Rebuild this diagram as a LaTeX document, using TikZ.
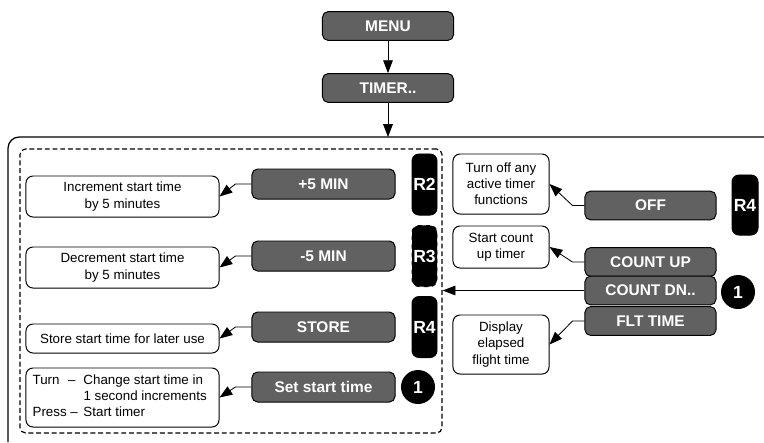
\documentclass[tikz,border=0pt]{standalone}
\usepackage{fontspec}
\setmainfont{Liberation Sans}
\usetikzlibrary{arrows.meta, positioning, calc}
\definecolor{keygray}{HTML}{616161}

\tikzset{
  keybox/.style={draw=black, fill=keygray, text=white, rounded corners=4pt,
    font=\fontsize{11}{13}\selectfont\bfseries, inner sep=0pt,
    minimum width=3.575cm, minimum height=0.75cm},
  keysmall/.style={keybox, minimum width=3.275cm, minimum height=0.72cm},
  infobox/.style={draw=black, fill=white, rounded corners=5pt, align=center,
    font=\fontsize{9.5}{11.5}\selectfont, inner sep=0pt, minimum width=4.825cm},
  infosmall/.style={infobox, minimum width=2.4cm},
  rkey/.style={draw=black, fill=black, text=white, rounded corners=5pt,
    font=\fontsize{12.5}{14}\selectfont\bfseries, inner sep=0pt,
    minimum width=0.625cm, minimum height=1.525cm},
  numdot/.style={circle, fill=black, text=white, inner sep=0pt,
    font=\fontsize{12.5}{14}\selectfont\bfseries, minimum size=0.85cm},
  arr/.style={-{Triangle[length=3.2mm,width=2.4mm]}, line width=0.6pt}
}

\begin{document}
\begin{tikzpicture}[x=0.025cm, y=-0.025cm, line width=0.7pt]
  \useasboundingbox (0,0) rectangle (764,442);

  % Menu path
  \node[keysmall] (menu) at (388,26) {MENU};
  \node[keysmall] (timer) at (388,88) {TIMER..};
  \coordinate (ftop) at (388,137);
  \draw[arr] (menu) -- (timer);
  \draw[arr] (timer) -- (ftop);

  % Frames
  \draw[line width=0.9pt, rounded corners=8] (764,137) -- (8,137) -- (8,442);
  \node[draw, line width=0.85pt, dash pattern=on 3.5pt off 2pt, rounded corners=4pt, inner sep=0pt,
    minimum width=10.55cm, minimum height=7.1cm] (panel) at (231,291) {};

  % Start time keys
  \node[keybox] (plus) at (323.5,184) {+5 MIN};
  \node[keybox] (minus) at (323.5,256) {-5 MIN};
  \node[keybox] (store) at (323.5,327) {STORE};
  \node[keybox] (setst) at (323.5,387) {Set start time};

  \node[rkey] (rtwo) at (424.5,184.5) {R2};
  \node[rkey, dashed] (rthree) at (424.5,256) {R3};
  \node[rkey] (rfour) at (424.5,327) {R4};
  \node[numdot] (knob) at (418,387) {1};

  % Start time notes
  \node[infobox, minimum height=1.025cm] (inc) at (122.5,196.5) {Increment start time\\by 5 minutes};
  \node[infobox, minimum height=1.025cm] (dec) at (122.5,267.5) {Decrement start time\\by 5 minutes};
  \node[infobox, minimum height=0.725cm] (keep) at (122.5,338.5) {Store start time for later use};
  \node[infobox, minimum height=1.475cm, align=left] (turn) at (122.5,397.5)
    {\begin{tabular}{@{}l@{\hspace{4pt}}l@{}}
      Turn\hspace{6pt}-- & Change start time in\\
       & 1 second increments\\
      Press -- & Start timer
    \end{tabular}\hspace{4pt}};

  \draw[arr] (plus.west) -- ++(-16,0) -- (inc.east);
  \draw[arr] (minus.west) -- ++(-16,0) -- (dec.east);
  \draw[arr] (store.west) -- ++(-16,0) -- (keep.east);
  \draw[arr] (setst.west) -- ++(-16,0) -- (turn.east);

  % Timer mode keys
  \node[keysmall] (off) at (650.5,205.5) {OFF};
  \node[keysmall] (cup) at (650.5,262) {COUNT UP};
  \node[keysmall] (cdn) at (650.5,290.5) {COUNT DN..};
  \node[keysmall] (flt) at (650.5,321) {FLT TIME};

  \node[rkey, minimum width=0.65cm, minimum height=1.5cm] (rfourb) at (745,205) {R4};
  \node[numdot] (knobb) at (738,292) {1};

  % Timer mode notes
  \node[infosmall, minimum height=1.5cm] (offtxt) at (501,184) {Turn off any\\active timer\\functions};
  \node[infosmall, minimum height=1.05cm] (cuptxt) at (501,247) {Start count\\up timer};
  \node[infosmall, minimum height=1.475cm] (flttxt) at (501,344.5) {Display\\elapsed\\flight time};

  \draw[arr] (off.west) -- ++(-12,0) -- (offtxt.east);
  \draw[arr] (cup.west) -- ++(-12,0) -- (cuptxt.east);
  \draw[arr] (flt.west) -- ++(-12,0) -- (flttxt.east);
  \draw[arr] (cdn.west) -- (cdn.west -| panel.east);
\end{tikzpicture}
\end{document}
